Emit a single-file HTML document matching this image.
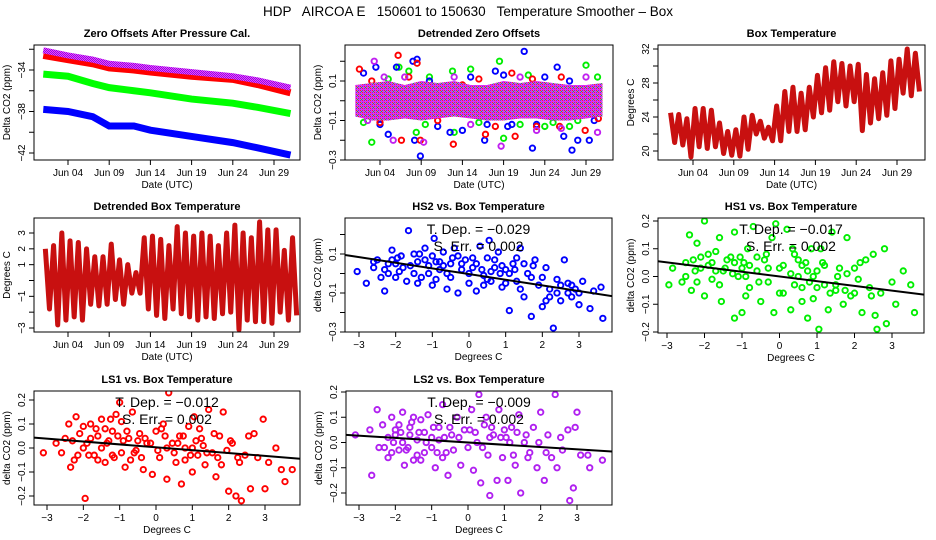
<!DOCTYPE html>
<html><head><meta charset="utf-8"><style>
html,body{margin:0;padding:0;background:#fff;}
svg{display:block;font-family:"Liberation Sans",sans-serif;}
</style></head><body>
<svg id="c" width="936" height="540" viewBox="0 0 936 540" xmlns="http://www.w3.org/2000/svg">
<defs>
<pattern id="pp" width="2" height="2" patternUnits="userSpaceOnUse"><rect width="2" height="2" fill="#ff30ff"/><rect width="1" height="1" fill="#8020e0"/><rect x="1" y="1" width="1" height="1" fill="#8020e0"/></pattern>
<pattern id="bp" width="4" height="4" patternUnits="userSpaceOnUse"><rect width="4" height="4" fill="#d040f0"/><rect width="1" height="1" fill="#8020e0"/><rect x="2" y="2" width="1" height="1" fill="#8020e0"/><rect x="2" y="0" width="1" height="1" fill="#ff2020"/><rect x="0" y="2" width="1" height="1" fill="#ff2020"/><rect x="3" y="1" width="1" height="1" fill="#ff00ff"/><rect x="1" y="3" width="1" height="1" fill="#20c020"/></pattern>
</defs>
<text x="468" y="16" text-anchor="middle" font-size="13.5" style="white-space:pre" xml:space="preserve">HDP   AIRCOA E   150601 to 150630   Temperature Smoother – Box</text>
</svg>
<script>
// ---- data ----
const days=[1,4,7,9,12,14,19,24,27,31];
const zeroPurple=[-32.1,-32.6,-33.0,-33.4,-33.6,-33.8,-34.2,-34.6,-35.0,-35.7];
const zeroRed=[-32.6,-33.0,-33.4,-33.8,-34.0,-34.2,-34.6,-34.9,-35.4,-36.2];
const zeroGreen=[-34.4,-34.6,-35.3,-35.7,-36.0,-36.2,-36.8,-37.2,-37.6,-38.2];
const zeroBlue=[-37.8,-38.0,-38.5,-39.4,-39.4,-39.8,-40.4,-41.0,-41.5,-42.2];
const bandDays=[1,3,5,7,9,11,13,15,17,19,21,23,25,27,29,31];
const bandHi=[0.08,0.09,0.1,0.08,0.1,0.09,0.1,0.08,0.08,0.1,0.09,0.1,0.09,0.08,0.08,0.09];
const bandLo=[-0.08,-0.1,-0.1,-0.09,-0.1,-0.09,-0.08,-0.09,-0.1,-0.1,-0.09,-0.09,-0.1,-0.1,-0.09,-0.08];
const outBlue=[[8.5,0.21],[8,0.2],[6,0.17],[3.5,0.17],[21.5,0.25],[25.5,0.17],[19,0.13],[8.9,-0.28],[8.2,-0.2],[16.7,-0.2],[22.5,-0.24],[26.3,-0.18],[27.3,-0.25],[28,-0.2],[29.4,-0.2],[5,-0.17],[12.5,-0.16],[20,-0.12],[14,-0.15],[30,-0.1],[2,0.14],[18,0.15],[10,0.1],[15,0.12],[24,0.12],[27,0.1],[4,-0.12],[11,-0.13],[17,-0.12],[23,-0.12],[19.5,-0.13]];
const outGreen=[[6.3,0.17],[7.5,0.15],[12.8,0.15],[18.5,0.2],[15,0.16],[29,0.18],[30.4,0.12],[10,0.12],[3,-0.21],[8.4,-0.16],[13,-0.16],[19,-0.19],[27,-0.13],[24,-0.13],[16,-0.11],[21,-0.12],[5,0.11],[22,0.13],[9.5,-0.12],[25,-0.11],[28,-0.1],[2,-0.11]];
const outRed=[[6.2,0.23],[8.5,0.19],[1.5,0.16],[3,0.1],[14,0.08],[20,0.14],[22.5,0.11],[6.6,-0.2],[8.9,-0.2],[12.9,-0.22],[16.8,-0.17],[20.4,-0.18],[25.8,-0.13],[28.9,-0.15],[30.5,-0.09],[4,-0.11],[11,-0.1],[16,0.11],[26,0.12],[7.5,0.12],[18,-0.13],[23,-0.13]];
const outPurple=[[3.3,0.2],[4.5,0.12],[7,0.12],[9.3,-0.21],[18.7,-0.23],[5.6,-0.2],[26,-0.14],[30.4,-0.16],[2.5,-0.1],[23,-0.15],[13,0.12],[21,0.12],[29,0.12],[15,-0.12]];
const tempMax=[24.5,24.3,23.8,25,25,24.8,23.3,22.3,22.5,24,24.2,23.5,22.8,25.3,27,27.5,26.8,27.5,28.9,29.8,30.5,30.3,30,30.2,29,28.5,29.2,30.6,30.8,32,31.5];
const tempMin=[21,20.7,19.3,20.5,20.3,20.5,19.7,19.5,19.4,20.2,22,21.5,21.2,21.2,22.3,22.3,22.5,24,24.5,24.8,25.8,25.3,25.8,22.4,23.3,23.8,24.2,25,26.8,26.5,27];
const dtMax=[2,2.2,3,2.5,2.4,2,1.5,1.5,2.3,1.3,1.0,0.5,2.7,2.8,2.6,2.2,3.4,3.0,2.8,3.0,2.8,2.2,3.0,3.5,3.0,2.7,3.7,3.2,3.2,1.9,2.7];
const dtMin=[-1.8,-2.8,-2.5,-2.3,-2.5,-1.5,-1.6,-1.5,-1.2,-1.5,-0.8,-0.8,-1.8,-2.2,-2.4,-1.8,-2.1,-2.3,-2.5,-2.3,-2.4,-2.1,-2.0,-3.1,-2.5,-2.6,-2.6,-2.7,-2.0,-2.5,-2.2];
const hs2=[[-3.05,0.01],[-2.8,-0.05],[-2.6,0.03],[-2.5,0.07],[-2.4,-0.02],[-2.3,-0.09],[-2.2,0.05],[-2.1,0.12],[-2.0,-0.02],[-1.95,0.08],[-1.9,0.01],[-1.8,0.03],[-1.7,-0.04],[-1.65,0.22],[-1.5,0.1],[-1.4,0.06],[-1.3,-0.02],[-1.2,0.13],[-1.1,0.04],[-1.0,0.09],[-0.95,0.18],[-0.9,-0.03],[-0.8,0.02],[-0.7,0.11],[-0.6,-0.08],[-0.5,0.05],[-0.4,0.13],[-0.3,-0.1],[-0.2,0.02],[-0.1,0.07],[0,-0.05],[0.1,0.03],[0.2,-0.09],[0.3,0.14],[0.4,-0.01],[0.5,0.08],[0.55,0.17],[0.6,-0.04],[0.7,0.03],[0.8,0.11],[0.9,-0.07],[1.0,0.02],[1.1,-0.19],[1.2,0.05],[1.3,-0.04],[1.4,0.13],[1.5,-0.12],[1.6,0.0],[1.7,-0.22],[1.8,0.07],[1.9,-0.06],[2.0,-0.17],[2.1,0.03],[2.2,-0.08],[2.3,-0.28],[2.4,-0.03],[2.5,-0.14],[2.6,0.07],[2.7,-0.05],[2.8,-0.12],[2.9,-0.08],[3.0,-0.16],[3.1,-0.04],[3.3,-0.18],[3.4,-0.09],[3.6,-0.07],[3.65,-0.23],[-1.5,0.0],[-1.2,0.07],[-0.8,0.06],[-0.5,-0.02],[-0.3,0.09],[0.2,0.05],[0.6,0.01],[0.9,0.04],[1.1,0.0],[1.3,0.08],[-2.3,0.02],[-1.0,-0.06],[0.0,0.0],[0.4,-0.06],[1.7,-0.02],[2.4,-0.1],[2.8,-0.06],
[-2.6,0.06],[-2.2,0.0],[-2.0,0.05],[-1.85,0.09],[-1.6,0.04],[-1.35,0.1],[-1.1,0.0],[-0.9,0.06],[-0.7,0.04],[-0.45,0.08],[-0.2,0.05],[0.1,0.08],[0.35,0.02],[0.7,0.07],[0.85,0.0],[1.0,-0.05],[1.25,0.02],[1.5,0.05],[1.75,0.04],[2.0,-0.02],[2.2,-0.12],[2.5,-0.06],[2.7,-0.1],[3.0,-0.1],[-1.4,-0.05],[-0.6,0.0],[0.5,-0.03],[1.4,-0.08],[2.1,-0.14],[-2.1,0.07]];
const hs1=[[-2.95,-0.03],[-2.85,0.03],[-2.6,-0.02],[-2.5,0.05],[-2.4,0.15],[-2.35,-0.05],[-2.25,0.02],[-2.2,0.12],[-2.1,0.07],[-2.0,0.2],[-2.0,-0.07],[-1.9,0.04],[-1.8,-0.01],[-1.7,0.09],[-1.6,0.14],[-1.55,-0.09],[-1.45,0.03],[-1.3,0.07],[-1.2,0.16],[-1.2,-0.15],[-1.1,0.0],[-1.0,-0.13],[-0.95,0.05],[-0.85,0.1],[-0.8,-0.04],[-0.7,0.18],[-0.6,0.02],[-0.5,-0.09],[-0.4,0.06],[-0.3,-0.02],[-0.2,0.14],[-0.15,-0.13],[-0.1,0.19],[0.0,0.03],[0.1,-0.06],[0.2,0.17],[0.3,-0.12],[0.4,0.08],[0.5,0.0],[0.6,-0.04],[0.7,0.05],[0.75,-0.15],[0.85,0.1],[0.9,-0.08],[1.0,0.02],[1.05,-0.19],[1.1,0.1],[1.2,-0.03],[1.3,-0.12],[1.4,0.16],[1.5,-0.05],[1.6,0.03],[1.7,-0.1],[1.8,0.14],[1.9,-0.07],[2.0,0.03],[2.1,-0.01],[2.2,-0.13],[2.3,0.06],[2.4,-0.04],[2.5,0.08],[2.55,-0.14],[2.6,-0.19],[2.7,-0.06],[2.8,0.1],[2.85,-0.17],[3.0,-0.02],[3.1,-0.1],[3.3,0.02],[3.5,-0.03],[3.6,-0.13],[-1.8,0.05],[-1.5,0.02],[-1.2,0.05],[-0.9,0.0],[-0.6,0.07],[-0.3,0.03],[0.3,0.01],[0.6,0.04],[0.9,0.0],[1.2,0.04],[1.5,-0.03],[-2.2,-0.02],[-1.0,0.03],[0.4,-0.03],[0.8,-0.02],
[-2.3,0.06],[-2.1,0.03],[-1.9,0.08],[-1.7,0.02],[-1.4,0.06],[-1.25,0.01],[-1.05,0.07],[-0.8,0.04],[-0.55,-0.02],[-0.35,0.08],[0.1,0.04],[0.35,0.1],[0.5,0.06],[0.75,0.02],[1.0,-0.04],[1.15,0.05],[1.35,-0.06],[1.55,0.0],[1.75,-0.05],[2.0,-0.06],[2.15,0.05],[2.45,-0.07],[-1.6,-0.03],[-0.9,-0.07],[0.0,-0.06],[0.6,-0.09],[1.8,0.01],[-2.5,0.0]];
const ls1=[[-3.1,-0.02],[-2.75,0.02],[-2.6,-0.02],[-2.5,0.04],[-2.4,0.1],[-2.35,-0.08],[-2.25,-0.05],[-2.2,0.13],[-2.1,0.06],[-1.95,-0.21],[-1.9,0.02],[-1.8,0.1],[-1.7,-0.03],[-1.6,0.05],[-1.5,0.12],[-1.4,-0.06],[-1.3,0.03],[-1.2,0.07],[-1.1,0.14],[-1.0,0.19],[-0.95,-0.02],[-0.85,-0.08],[-0.75,0.04],[-0.65,0.15],[-0.55,-0.01],[-0.45,0.06],[-0.35,-0.09],[-0.25,0.02],[-0.1,-0.11],[0.0,0.07],[0.1,-0.04],[0.2,0.1],[0.3,-0.13],[0.35,0.23],[0.45,0.02],[0.55,-0.06],[0.65,0.05],[0.7,-0.15],[0.8,0.0],[0.9,0.09],[1.0,-0.1],[1.05,0.13],[1.15,-0.03],[1.25,0.04],[1.35,-0.07],[1.45,0.16],[1.55,-0.02],[1.65,-0.12],[1.75,0.05],[1.85,0.15],[1.95,-0.01],[2.0,-0.18],[2.1,0.02],[2.2,-0.2],[2.3,-0.06],[2.35,-0.22],[2.45,-0.03],[2.55,0.05],[2.6,-0.17],[2.7,0.06],[2.8,-0.04],[2.95,0.12],[3.0,-0.17],[3.1,-0.06],[3.3,0.0],[3.45,-0.09],[3.55,-0.14],[3.75,-0.09],[-1.8,0.04],[-1.5,0.0],[-1.2,-0.03],[-0.9,0.03],[-0.6,-0.02],[-0.3,0.04],[0.3,0.0],[0.6,0.02],[1.0,0.0],[1.3,0.01],[-2.0,0.0],[-1.4,0.08],[-0.4,-0.04],[0.8,-0.05],[1.7,-0.04],
[-2.3,0.03],[-2.0,0.09],[-1.85,-0.03],[-1.65,0.08],[-1.35,0.02],[-1.15,-0.04],[-1.05,0.05],[-0.8,0.07],[-0.7,-0.05],[-0.5,0.03],[-0.15,0.02],[0.05,-0.01],[0.25,0.05],[0.5,-0.02],[0.75,0.05],[0.95,-0.03],[1.1,0.03],[1.4,-0.02],[1.6,0.06],[1.8,-0.07],[2.05,0.03],[2.25,-0.04],[-1.6,-0.05],[-0.95,0.11],[0.15,0.08],[1.2,0.08],[-2.15,-0.03],[-1.25,0.12]];
const ls2=[[-3.1,0.03],[-2.7,0.05],[-2.65,-0.13],[-2.5,0.13],[-2.45,-0.02],[-2.35,0.07],[-2.2,-0.06],[-2.1,0.1],[-2.0,0.03],[-1.9,-0.03],[-1.8,0.12],[-1.75,-0.09],[-1.6,0.06],[-1.5,-0.07],[-1.4,0.01],[-1.3,0.09],[-1.2,-0.04],[-1.1,0.11],[-1.0,0.02],[-0.9,-0.1],[-0.8,0.06],[-0.7,0.15],[-0.6,-0.04],[-0.55,-0.13],[-0.45,0.03],[-0.3,0.1],[-0.2,-0.09],[-0.1,0.05],[0.0,-0.02],[0.1,0.13],[0.15,-0.11],[0.25,0.0],[0.3,0.19],[0.35,-0.16],[0.45,0.07],[0.55,-0.05],[0.6,-0.21],[0.7,0.03],[0.8,-0.15],[0.85,0.13],[0.95,-0.06],[1.05,0.02],[1.1,-0.15],[1.2,0.06],[1.3,-0.09],[1.4,0.11],[1.45,-0.2],[1.55,0.0],[1.7,-0.04],[1.8,0.06],[1.9,-0.1],[2.0,0.12],[2.1,-0.15],[2.2,0.03],[2.3,-0.06],[2.4,0.19],[2.45,-0.1],[2.55,0.02],[2.6,-0.03],[2.75,0.05],[2.8,-0.23],[2.9,-0.18],[2.95,0.06],[3.0,0.12],[3.1,-0.05],[3.3,-0.05],[3.35,-0.1],[3.7,-0.07],[-2.0,0.05],[-1.8,0.0],[-1.6,0.03],[-1.4,-0.05],[-1.2,0.04],[-1.0,-0.02],[-0.8,0.01],[-0.4,-0.03],[0.2,0.04],[0.6,0.02],[1.0,0.05],[1.6,0.03],[-2.2,0.02],[-1.9,0.07],
[-2.3,-0.02],[-2.05,0.0],[-1.85,0.04],[-1.7,-0.03],[-1.55,0.08],[-1.35,0.04],[-1.15,0.0],[-0.95,0.06],[-0.85,-0.04],[-0.65,0.02],[-0.5,0.06],[-0.25,0.02],[0.05,0.05],[0.4,-0.02],[0.65,0.06],[0.9,0.02],[1.15,0.0],[1.35,0.04],[1.65,-0.06],[1.95,0.0],[2.15,-0.04],[-1.5,0.1],[-1.3,-0.07],[-0.7,-0.06],[0.5,0.1],[1.25,-0.05],[-2.1,-0.04],[-1.65,-0.02]];
const slopes=[-0.029,-0.017,-0.012,-0.009];
const intercepts=[-0.003,0.0,0.003,0.0];
const serrs=["0.002","0.002","0.002","0.002"];
const dayTicks=[4,9,14,19,24,29];
const dayLabels=["Jun 04","Jun 09","Jun 14","Jun 19","Jun 24","Jun 29"];
const degTicks=[-3,-2,-1,0,1,2,3];

const svg=document.getElementById('c');
const NS="http://www.w3.org/2000/svg";
function el(tag,attrs,parent){const e=document.createElementNS(NS,tag);for(const k in attrs)e.setAttribute(k,attrs[k]);(parent||svg).appendChild(e);return e;}
function lin(v1,p1,v2,p2){return v=>p1+(v-v1)*(p2-p1)/(v2-v1);}

function panel(name,cfg){
  const g=el('g',{});
  
  
  const sx=lin(...cfg.xm), sy=lin(...cfg.ym);
  const b=cfg.box;
  const t=el('text',{x:(b[0]+b[1])/2,y:b[2]-8,'text-anchor':'middle','font-size':'11','font-weight':'bold'},g);
  t.textContent=cfg.title;
  
  
  cfg.xt.forEach((v,i)=>{
    const x=sx(v);
    el('line',{x1:x,x2:x,y1:b[3],y2:b[3]+5,stroke:'#000'},g);
    const tl=el('text',{x:x,y:b[3]+16,'text-anchor':'middle','font-size':'10'},g);
    tl.textContent=cfg.xl[i];
    
    
  });
  const xt=el('text',{x:(b[0]+b[1])/2,y:b[3]+28,'text-anchor':'middle','font-size':'10'},g);
  xt.textContent=cfg.xtitle;
  
  
  cfg.yt.forEach(v=>{
    const y=sy(v);
    el('line',{x1:b[0]-5,x2:b[0],y1:y,y2:y,stroke:'#000'},g);
  });
  cfg.yl.forEach(v=>{
    const y=sy(v), xx=b[0]-9;
    const tl=el('text',{x:xx,y:y,'text-anchor':'middle','font-size':'10',transform:`rotate(-90 ${xx} ${y})`},g);
    tl.textContent=(v<0?'\u2212':'')+Math.abs(v).toFixed(cfg.yd);
    
    
  });
  const yx=b[0]-24, yy=(b[2]+b[3])/2;
  const yt=el('text',{x:yx,y:yy,'text-anchor':'middle','font-size':'10',transform:`rotate(-90 ${yx} ${yy})`},g);
  yt.textContent=cfg.ytitle;
  
  
  const clip='clip'+name;
  const cp=el('clipPath',{id:clip},g);el('rect',{x:b[0],y:b[2],width:b[1]-b[0],height:b[3]-b[2]},cp);
  const plot=el('g',{'clip-path':`url(#${clip})`},g);
  cfg.draw(plot,sx,sy);
  const fr=el('rect',{x:b[0],y:b[2],width:b[1]-b[0],height:b[3]-b[2],fill:'none',stroke:'#000'},g);
  
  
}
function line(plot,xs,ys,sx,sy,attrs,name){
  const p=el('polyline',Object.assign({points:xs.map((x,i)=>sx(x)+','+sy(ys[i])).join(' '),fill:'none'},attrs),plot);
  
  
}
function pts(plot,arr,sx,sy,color,name){
  arr.forEach(p=>{
    const c=el('circle',{cx:sx(p[0]),cy:sy(p[1]),r:2.7,fill:'none',stroke:color,'stroke-width':1.9},plot);
    
    
  });
}
function zig(mx,mn){const xs=[],ys=[];mx.forEach((v,i)=>{xs.push(i+1.25);ys.push(v);xs.push(i+1.75);ys.push(mn[i]);});return [xs,ys];}
const timeCfg={xt:dayTicks,xl:dayLabels,xtitle:'Date (UTC)'};

panel('zero-offsets-panel',Object.assign({},timeCfg,{title:'Zero Offsets After Pressure Cal.',box:[34,300,45,160],xm:[4,68,29,274],ym:[-34,70,-42,153],yt:[-32,-34,-36,-38,-40,-42],yl:[-34,-38,-42],yd:0,ytitle:'Delta CO2 (ppm)',
 draw:(p,sx,sy)=>{
  line(p,days,zeroBlue,sx,sy,{stroke:'#0000ff','stroke-width':7},'series-hs2');
  line(p,days,zeroGreen,sx,sy,{stroke:'#00ff00','stroke-width':7},'series-hs1');
  line(p,days,zeroRed,sx,sy,{stroke:'#ff0000','stroke-width':7},'series-ls1');
  line(p,days,zeroPurple,sx,sy,{stroke:'url(#pp)','stroke-width':6},'series-ls2');
 }}));

panel('detrended-zero-panel',Object.assign({},timeCfg,{title:'Detrended Zero Offsets',box:[345,613,45,160],xm:[4,380,29,586],ym:[0.1,81,-0.3,160],yt:[0.2,0.1,0,-0.1,-0.2,-0.3],yl:[0.1,-0.1,-0.3],yd:1,ytitle:'Delta CO2 (ppm)',
 draw:(p,sx,sy)=>{
  pts(p,outGreen,sx,sy,'#00ee00','outlier-hs1');
  pts(p,outBlue,sx,sy,'#0000ff','outlier-hs2');
  pts(p,outRed,sx,sy,'#ff0000','outlier-ls1');
  pts(p,outPurple,sx,sy,'#c020f0','outlier-ls2');
  const ptsStr=bandDays.map((d,i)=>sx(d)+','+sy(bandHi[i])).concat(bandDays.slice().reverse().map((d,i)=>sx(d)+','+sy(bandLo[bandDays.length-1-i]))).join(' ');
  const poly=el('polygon',{points:ptsStr,fill:'url(#bp)'},p);
  
  
 }}));

panel('box-temperature-panel',Object.assign({},timeCfg,{title:'Box Temperature',box:[658,925,45,160],xm:[4,693,29,897],ym:[32,49,20,151],yt:[32,30,28,26,24,22,20],yl:[32,28,24,20],yd:0,ytitle:'Degrees C',
 draw:(p,sx,sy)=>{const z=zig(tempMax,tempMin);line(p,z[0],z[1],sx,sy,{stroke:'#c81010','stroke-width':5,'stroke-linejoin':'round'},'box-temp-series');}}));

panel('detrended-temp-panel',Object.assign({},timeCfg,{title:'Detrended Box Temperature',box:[34,300,218,332],xm:[4,68,29,274],ym:[3,233,-3,328],yt:[3,2,1,0,-1,-2,-3],yl:[3,2,1,-1,-3],yd:0,ytitle:'Degrees C',
 draw:(p,sx,sy)=>{const z=zig(dtMax,dtMin);line(p,z[0],z[1],sx,sy,{stroke:'#c81010','stroke-width':5,'stroke-linejoin':'round'},'detrended-temp-series');}}));

function scatterPanel(name,title,box,xm,ym,yt,yl,data,color,k){
  panel(name,{title:title,box:box,xm:xm,ym:ym,xt:degTicks,xl:degTicks.map(v=>(v<0?'\u2212':'')+Math.abs(v)),xtitle:'Degrees C',yt:yt,yl:yl,yd:1,ytitle:'delta CO2 (ppm)',
   draw:(p,sx,sy)=>{
    pts(p,data,sx,sy,color,'scatter-point');
    const x0=-3.6,x1=4.2;
    line(p,[x0,x1],[intercepts[k]+slopes[k]*x0,intercepts[k]+slopes[k]*x1],sx,sy,{stroke:'#000','stroke-width':2},'regression-line');
    const cx=(box[0]+box[1])/2;
    const t1=el('text',{x:cx,y:box[2]+16,'text-anchor':'middle','font-size':'14'},p);
    t1.textContent='T. Dep. =  \u2212'+Math.abs(slopes[k]).toFixed(3);
    
    
    const t2=el('text',{x:cx,y:box[2]+33,'text-anchor':'middle','font-size':'14'},p);
    t2.textContent='S. Err. =  '+serrs[k];
    
    
   }});
}
scatterPanel('hs2-scatter-panel','HS2 vs. Box Temperature',[345,612,218,332],[-3,359,3,579],[0.1,254,-0.3,332],[0.2,0.1,0,-0.1,-0.2,-0.3],[0.1,-0.1,-0.3],hs2,'#0000ff',0);
scatterPanel('hs1-scatter-panel','HS1 vs. Box Temperature',[658,924,218,333],[-3,667,3,892],[0.2,221,-0.2,332],[0.2,0.1,0,-0.1,-0.2],[0.2,0.1,0,-0.1,-0.2],hs1,'#00ee00',1);
scatterPanel('ls1-scatter-panel','LS1 vs. Box Temperature',[34,300,391,505],[-3,47,3,265],[0.2,400,-0.2,496],[0.2,0.1,0,-0.1,-0.2],[0.2,0.1,0,-0.1,-0.2],ls1,'#ff0000',2);
scatterPanel('ls2-scatter-panel','LS2 vs. Box Temperature',[346,612,391,505],[-3,359,3,577],[0.2,392,-0.2,493],[0.2,0.1,0,-0.1,-0.2],[0.2,0.1,0,-0.1,-0.2],ls2,'#b020f0',3);
</script>
</body></html>
